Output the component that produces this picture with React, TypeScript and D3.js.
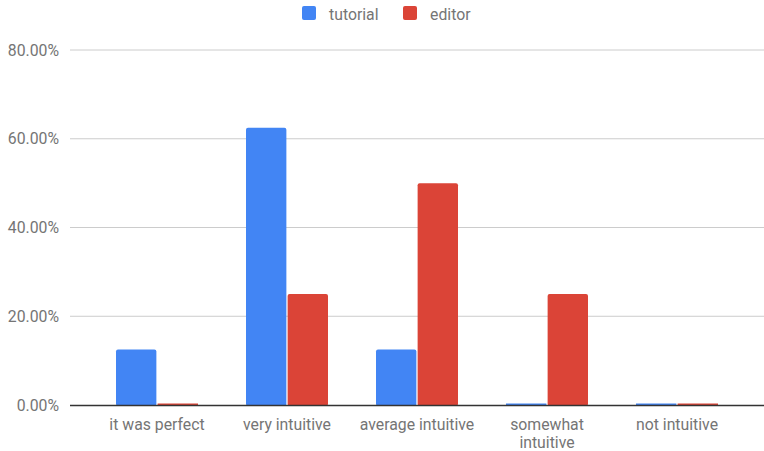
import React from "react";
import * as d3 from "d3";

const categories = ["it was perfect", "very intuitive", "average intuitive", "somewhat intuitive", "not intuitive"];
const seriesNames = ["tutorial", "editor"];
const tutorial = [0.125, 0.625, 0.125, 0, 0];
const editor = [0, 0.25, 0.5, 0.25, 0];
const yTicks = [0, 0.2, 0.4, 0.6, 0.8];
const colors = ["#4285F4", "#DB4437"];

const W = 764, H = 451;

function wrapLabel(s: string, maxChars: number): string[] {
  if (s.length <= maxChars) return [s];
  const words = s.split(" ");
  const lines: string[] = [];
  let cur = "";
  for (const w of words) {
    const t = cur ? cur + " " + w : w;
    if (t.length > maxChars && cur) { lines.push(cur); cur = w; } else cur = t;
  }
  if (cur) lines.push(cur);
  return lines;
}

export default function App() {
  const y = d3.scaleLinear().domain([0, 0.8]).range([405, 50]);
  const x0 = d3.scaleBand<string>().domain(categories).range([92, 742]).padding(0);
  const groupW = 82;
  const x1 = d3.scaleBand<string>().domain(seriesNames).range([0, groupW]).paddingInner(0.03);
  const data = [tutorial, editor];
  const fmt = d3.format(".2%");
  const font = "Roboto, 'Noto Sans', Arial, sans-serif";
  const fs = 15.8;

  return (
    <svg width={W} height={H} style={{ position: "absolute", left: 0, top: 0, background: "#fff" }} fontFamily={font}>
      {/* legend */}
      <g>
        <rect x={302} y={6} width={14} height={14} rx={2} fill={colors[0]} />
        <text x={329} y={19.5} fontSize={fs} fill="#757575">tutorial</text>
        <rect x={403} y={6} width={14} height={14} rx={2} fill={colors[1]} />
        <text x={430} y={19.5} fontSize={fs} fill="#757575">editor</text>
      </g>
      {/* gridlines and y labels */}
      {yTicks.map((t) => (
        <g key={t}>
          {t !== 0 && <line x1={70} x2={W} y1={y(t)} y2={y(t)} stroke="#cccccc" strokeWidth={1} />}
          <text x={59} y={y(t) + 5.5} textAnchor="end" fontSize={fs} fill="#757575">{fmt(t)}</text>
        </g>
      ))}
      {/* bars */}
      {categories.map((c, i) => {
        const gx = (x0(c) as number) + (x0.bandwidth() - groupW) / 2;
        return (
          <g key={c}>
            {seriesNames.map((s, j) => {
              const v = data[j][i];
              const top = y(v);
              const h = Math.max(y(0) - top, 1.5);
              return (
                <rect key={s} x={gx + (x1(s) as number)} y={y(0) - h} width={x1.bandwidth()} height={h + 1} rx={v > 0 ? 2 : 0} fill={colors[j]} />
              );
            })}
          </g>
        );
      })}
      {/* baseline */}
      <line x1={70} x2={W} y1={y(0) + 0.5} y2={y(0) + 0.5} stroke="#333333" strokeWidth={1.5} />
      {/* x labels */}
      {categories.map((c) => {
        const cx = (x0(c) as number) + x0.bandwidth() / 2;
        const lines = wrapLabel(c, 17);
        return (
          <text key={c} x={cx} y={430} textAnchor="middle" fontSize={fs} fill="#757575">
            {lines.map((l, k) => (
              <tspan key={k} x={cx} dy={k === 0 ? 0 : 18}>{l}</tspan>
            ))}
          </text>
        );
      })}
    </svg>
  );
}
